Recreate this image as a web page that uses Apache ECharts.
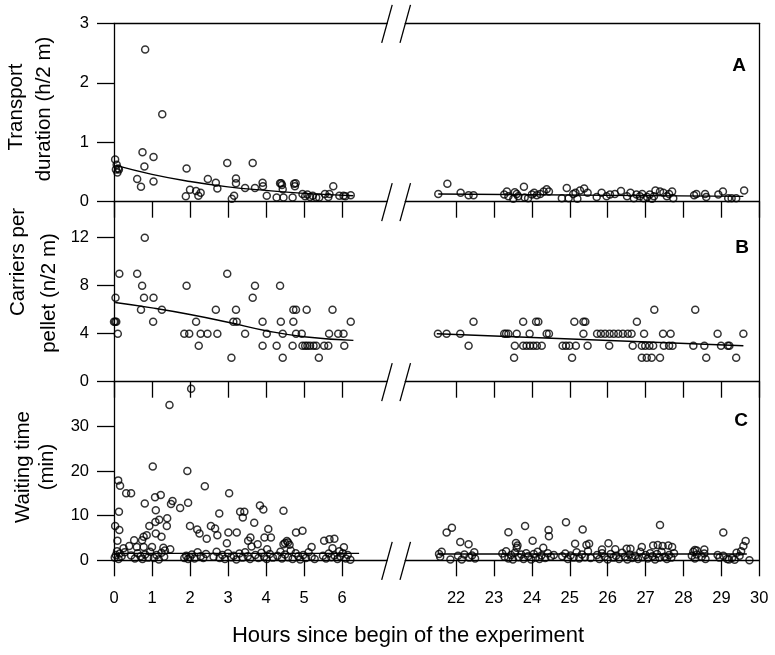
<!DOCTYPE html>
<html>
<head>
<meta charset="utf-8">
<script src="https://cdn.jsdelivr.net/npm/echarts@6/dist/echarts.min.js"></script>
<style>html,body{margin:0;padding:0;background:#fff}#c{width:775px;height:655px}</style>
</head>
<body>
<div id="c"></div>
<script>
// ---------- data ----------
const xTicksLeft = [0, 1, 2, 3, 4, 5, 6];
const xTicksRight = [22, 23, 24, 25, 26, 27, 28, 29, 30];
const yTicksA = [0, 1, 2, 3];
const yTicksB = [0, 4, 8, 12];
const yTicksC = [0, 10, 20, 30];

// Panel A: transport duration (h/2 m)
const aLeft = [[0.03,0.71],[0.05,0.54],[0.07,0.62],[0.09,0.49],[0.11,0.56],[0.13,0.54],[0.61,0.38],[0.71,0.25],[0.75,0.83],[0.8,0.59],[0.82,2.56],[1.04,0.75],[1.04,0.34],[1.27,1.47],[1.89,0.09],[1.91,0.56],[2.0,0.2],[2.16,0.18],[2.22,0.10],[2.28,0.15],[2.47,0.38],[2.68,0.32],[2.72,0.22],[2.98,0.65],[3.1,0.05],[3.16,0.10],[3.21,0.39],[3.21,0.31],[3.45,0.23],[3.65,0.65],[3.71,0.23],[3.91,0.32],[3.92,0.26],[4.02,0.10],[4.28,0.07],[4.37,0.31],[4.42,0.28],[4.4,0.31],[4.44,0.21],[4.46,0.07],[4.7,0.07],[4.74,0.30],[4.78,0.31],[4.76,0.26],[4.96,0.13],[5.03,0.09],[5.09,0.12],[5.16,0.08],[5.23,0.10],[5.32,0.07],[5.4,0.07],[5.55,0.13],[5.64,0.08],[5.67,0.13],[5.77,0.26],[5.93,0.10],[6.04,0.10],[6.09,0.09],[6.23,0.11]];
const aRight = [[21.53,0.13],[21.77,0.30],[22.12,0.15],[22.33,0.11],[22.46,0.11],[23.27,0.12],[23.34,0.17],[23.38,0.09],[23.51,0.05],[23.55,0.16],[23.6,0.13],[23.64,0.09],[23.79,0.25],[23.81,0.07],[23.9,0.06],[24.0,0.12],[24.06,0.15],[24.13,0.11],[24.22,0.13],[24.31,0.17],[24.39,0.21],[24.45,0.17],[24.79,0.06],[24.92,0.23],[24.97,0.06],[25.09,0.13],[25.15,0.15],[25.2,0.05],[25.27,0.19],[25.38,0.22],[25.47,0.15],[25.71,0.08],[25.84,0.15],[25.97,0.09],[26.06,0.12],[26.19,0.13],[26.35,0.18],[26.51,0.09],[26.6,0.15],[26.69,0.06],[26.76,0.12],[26.85,0.09],[26.91,0.13],[26.95,0.06],[27.04,0.08],[27.11,0.12],[27.17,0.05],[27.22,0.09],[27.26,0.19],[27.38,0.17],[27.47,0.15],[27.56,0.09],[27.62,0.13],[27.7,0.17],[27.73,0.06],[28.28,0.11],[28.34,0.13],[28.57,0.13],[28.6,0.08],[28.92,0.12],[29.04,0.17],[29.18,0.06],[29.27,0.06],[29.39,0.06],[29.6,0.19]];
const aFitLeft = [[0.05,0.61],[1,0.46],[2,0.34],[3,0.25],[4,0.19],[5,0.14],[6.3,0.10]];
const aFitRight = [[21.53,0.13],[29.58,0.09]];

// Panel B: carriers per pellet (n/2 m)
const bLeft = [[0.0,5],[0.03,5],[0.06,5],[0.04,7],[0.1,4],[0.14,9],[0.61,9],[0.74,8],[0.71,6],[0.79,7],[0.81,12],[1.04,7],[1.03,5],[1.26,6],[1.85,4],[1.91,8],[1.98,4],[2.16,5],[2.23,3],[2.28,4],[2.46,4],[2.68,6],[2.72,4],[2.98,9],[3.09,2],[3.14,5],[3.23,5],[3.21,6],[3.45,4],[3.65,7],[3.71,8],[3.91,5],[3.91,3],[4.02,4],[4.28,3],[4.37,8],[4.39,5],[4.44,4],[4.44,2],[4.7,3],[4.72,5],[4.72,6],[4.79,6],[4.79,4],[4.94,4],[4.96,3],[5.03,3],[5.09,3],[5.16,3],[5.25,3],[5.32,3],[5.07,6],[5.39,2],[5.53,3],[5.64,3],[5.66,4],[5.75,6],[5.9,4],[6.04,4],[6.06,3],[6.23,5]];
const bRight = [[21.52,4],[21.75,4],[22.11,4],[22.33,3],[22.46,5],[23.27,4],[23.32,4],[23.38,4],[23.53,2],[23.55,3],[23.6,4],[23.77,5],[23.77,3],[23.86,3],[23.95,3],[24.04,3],[24.13,3],[24.26,3],[23.94,4],[24.11,5],[24.17,5],[24.39,4],[24.45,4],[24.81,3],[24.9,3],[24.99,3],[25.16,3],[25.06,2],[25.12,5],[25.36,5],[25.41,5],[25.36,4],[25.47,3],[25.72,4],[25.82,4],[25.93,4],[26.05,4],[26.16,4],[26.28,4],[26.4,4],[26.53,4],[26.63,4],[26.04,3],[26.77,5],[26.96,4],[26.66,3],[26.9,3],[26.99,3],[27.1,3],[27.2,3],[26.9,2],[27.03,2],[27.16,2],[27.38,2],[27.23,6],[27.46,4],[27.66,4],[27.48,3],[27.62,3],[27.71,3],[28.26,3],[28.31,6],[28.55,3],[28.6,2],[28.9,4],[28.99,3],[29.17,3],[29.21,3],[29.39,2],[29.58,4]];
const bFitLeft = [[0.03,6.6],[1,6.15],[2,5.6],[3,4.95],[4,4.25],[5,3.75],[6.3,3.44]];
const bFitRight = [[21.49,4.0],[29.58,3.0]];

// Panel C: waiting time (min)
const cLeft = [[1.46,34.8],[2.03,38.4],[1.02,21.0],[1.93,20.0],[0.11,17.9],[0.16,16.7],[2.39,16.6],[0.32,15.0],[0.45,15.0],[3.03,15.0],[1.23,14.6],[1.08,14.1],[1.54,13.3],[1.95,12.9],[0.81,12.7],[1.5,12.6],[3.84,12.3],[3.93,11.4],[1.74,11.7],[1.1,11.2],[4.46,11.1],[0.13,10.9],[3.32,10.9],[3.43,10.9],[2.77,10.5],[3.39,9.6],[1.4,9.4],[1.19,9.1],[1.09,8.6],[3.69,8.4],[0.03,7.7],[0.93,7.7],[1.39,7.7],[2.0,7.7],[2.55,7.7],[2.66,7.1],[4.06,7.0],[0.14,6.8],[2.19,6.9],[4.96,6.6],[3.01,6.2],[3.23,6.2],[4.79,6.2],[2.25,6.0],[1.1,6.0],[0.86,5.6],[2.72,5.6],[1.25,5.3],[0.78,5.3],[3.59,5.1],[3.96,5.1],[4.13,5.1],[2.44,4.8],[5.8,4.8],[5.67,4.7],[0.74,4.5],[0.53,4.5],[0.09,4.4],[3.53,4.4],[5.53,4.4],[4.55,4.3],[4.5,3.9],[4.58,4.0],[4.46,3.6],[4.62,3.5],[2.97,3.8],[3.78,3.6],[0.4,3.2],[5.2,3.0],[3.62,3.1],[0.6,3.0],[0.78,3.0],[1.0,3.0],[6.05,2.9],[1.3,2.8],[5.75,2.7],[0.25,2.7],[1.48,2.5],[4.03,2.5],[1.34,2.2],[5.93,2.0],[6.22,0.1],
[0.02,0.6],[0.05,1.2],[0.08,2.0],[0.12,0.3],[0.15,1.5],[0.2,0.9],[0.28,1.8],[0.45,1.1],[0.55,0.4],[0.62,1.6],[0.7,0.9],[0.75,0.3],[0.82,1.3],[0.9,0.6],[0.95,1.9],[1.05,0.5],[1.12,1.2],[1.18,0.2],[1.25,1.7],[1.32,0.8],[1.85,0.5],[1.9,1.0],[1.95,0.3],[2.0,0.7],[2.05,1.3],[2.12,0.4],[2.2,1.8],[2.28,0.9],[2.35,0.5],[2.42,1.4],[2.62,0.8],[2.7,1.9],[2.78,0.5],[2.85,1.2],[2.92,0.3],[3.0,1.6],[3.08,0.7],[3.15,1.0],[3.22,0.2],[3.3,1.5],[3.38,0.6],[3.45,1.8],[3.52,0.9],[3.58,0.3],[3.72,1.2],[3.8,0.5],[3.88,1.7],[3.95,0.8],[4.02,0.3],[4.1,1.4],[4.18,0.6],[4.3,1.0],[4.38,1.9],[4.42,0.4],[4.5,1.3],[4.58,0.7],[4.65,2.2],[4.7,0.3],[4.78,1.6],[4.85,0.9],[4.9,0.2],[4.98,1.2],[5.05,0.5],[5.12,1.8],[5.2,0.8],[5.28,0.3],[5.5,1.0],[5.58,0.4],[5.65,1.5],[5.72,0.7],[5.8,1.1],[5.88,0.3],[5.95,0.9],[6.02,1.6],[6.1,0.4],[6.15,1.2]];
const cRight = [[21.75,6.2],[21.89,7.3],[22.11,4.1],[22.33,3.6],[23.38,6.3],[23.82,7.7],[24.02,4.4],[24.44,6.8],[24.45,5.4],[24.9,8.5],[25.34,6.9],[25.14,3.7],[25.44,3.4],[25.51,3.7],[23.62,3.3],[23.6,2.8],[24.3,2.8],[23.58,3.9],[26.02,3.8],[25.85,2.4],[26.2,2.5],[26.5,2.6],[26.6,2.6],[26.9,3.0],[27.2,3.3],[27.32,3.4],[27.45,3.2],[27.6,3.3],[27.7,3.0],[27.38,7.9],[28.3,2.3],[28.35,2.2],[28.55,2.4],[29.05,6.2],[29.4,1.7],[29.58,3.2],[29.64,4.3],[29.74,0.0],
[21.55,1.4],[21.58,0.8],[21.62,1.9],[21.85,0.2],[22.05,1.0],[22.15,0.2],[22.22,1.3],[22.35,0.6],[22.42,1.1],[22.48,1.8],[22.5,0.4],[23.22,1.5],[23.28,0.8],[23.32,2.0],[23.38,0.4],[23.45,1.2],[23.5,0.2],[23.55,1.7],[23.65,0.7],[23.72,1.3],[23.78,0.3],[23.85,1.6],[23.9,0.9],[23.98,0.2],[24.05,1.4],[24.1,0.6],[24.15,1.9],[24.2,0.3],[24.25,1.1],[24.35,0.5],[24.42,1.6],[24.5,0.8],[24.58,1.2],[24.8,0.9],[24.88,1.5],[24.95,0.3],[25.02,1.1],[25.1,0.6],[25.18,1.8],[25.25,0.4],[25.32,1.3],[25.4,0.7],[25.48,2.0],[25.55,0.5],[25.72,1.2],[25.78,0.3],[25.85,1.6],[25.92,0.8],[26.0,0.2],[26.08,1.4],[26.15,0.6],[26.22,1.0],[26.3,0.3],[26.38,1.7],[26.45,0.8],[26.52,0.2],[26.58,1.3],[26.65,0.5],[26.72,1.0],[26.8,0.3],[26.86,1.9],[26.92,0.7],[27.0,1.2],[27.06,0.4],[27.12,1.6],[27.18,0.9],[27.25,0.2],[27.3,1.4],[27.36,0.6],[27.42,1.9],[27.5,0.8],[27.56,0.3],[27.62,1.2],[27.68,0.6],[27.75,1.6],[28.22,1.0],[28.26,1.9],[28.3,0.4],[28.35,1.3],[28.48,0.8],[28.55,1.5],[28.58,0.3],[28.9,1.2],[28.95,0.6],[29.05,1.0],[29.15,0.3],[29.2,0.2],[29.28,0.5],[29.35,0.1],[29.48,1.0],[29.52,2.0]];
const cFitLeft = [[0.03,1.56],[6.45,1.56]];
const cFitRight = [[21.53,1.4],[29.67,1.4]];

const panelLabels = ['A', 'B', 'C'];
const yTitles = [['Transport', 'duration (h/2 m)'], ['Carriers per', 'pellet (n/2 m)'], ['Waiting time', '(min)']];
const xTitle = 'Hours since begin of the experiment';

// ---------- layout ----------
const FONT = 'Liberation Sans, Arial, Helvetica, sans-serif';
const LW = 1.3;
const panelTop = [23.3, 201.7, 381.7];
const panelH = [178.4, 180, 178.6];
const leftX = 114, leftW = 273;     // 0 .. 7.184 h
const rightX = 405.3, rightW = 354; // 20.66 .. 30 h
const leftMax = 7.184, rightMin = 20.66, rightMax = 30;
const yMax = [3, 15, 40];
const yTicks = [yTicksA, yTicksB, yTicksC];

const grids = [], xAxes = [], yAxes = [], series = [];
const lineStyle = {color: '#000', width: LW};
const sym = {color: 'rgba(0,0,0,0)', borderColor: '#000', borderWidth: 1.5};
const datasets = [[aLeft, aRight, aFitLeft, aFitRight],[bLeft, bRight, bFitLeft, bFitRight],[cLeft, cRight, cFitLeft, cFitRight]];

for (let p = 0; p < 3; p++) {
  const isBottom = p === 2;
  for (let s = 0; s < 2; s++) {
    const gi = grids.length;
    grids.push({left: s === 0 ? leftX : rightX, width: s === 0 ? leftW : rightW, top: panelTop[p], height: panelH[p], containLabel: false});
    const ticks = s === 0 ? xTicksLeft : xTicksRight;
    xAxes.push({
      type: 'value', gridIndex: gi, position: 'bottom',
      min: s === 0 ? 0 : rightMin, max: s === 0 ? leftMax : rightMax,
      axisLine: {show: true, onZero: false, lineStyle},
      axisTick: {show: true, inside: false, length: 16, lineStyle, customValues: ticks},
      axisLabel: {show: isBottom, customValues: ticks, color: '#000', fontFamily: FONT, fontSize: 16.5, margin: 30},
      splitLine: {show: false}
    });
    yAxes.push({
      type: 'value', gridIndex: gi, position: s === 0 ? 'left' : 'right',
      min: 0, max: yMax[p],
      axisLine: {show: true, onZero: false, lineStyle},
      axisTick: {show: s === 0, inside: false, length: 17, lineStyle, customValues: yTicks[p]},
      axisLabel: {show: s === 0, customValues: yTicks[p], color: '#000', fontFamily: FONT, fontSize: 16.5, margin: 25},
      splitLine: {show: false}
    });
    series.push({type: 'scatter', xAxisIndex: gi, yAxisIndex: gi, data: datasets[p][s], symbol: 'circle', symbolSize: 7, itemStyle: sym, silent: true, clip: false, z: 3});
    series.push({type: 'line', xAxisIndex: gi, yAxisIndex: gi, data: datasets[p][s + 2], smooth: 0.5, showSymbol: false, symbol: 'none', lineStyle: {color: '#000', width: 1.4}, silent: true, z: 2});
  }
}
// top border of panel A
for (let s = 0; s < 2; s++) {
  xAxes.push({
    type: 'value', gridIndex: s, position: 'top',
    min: s === 0 ? 0 : rightMin, max: s === 0 ? leftMax : rightMax,
    axisLine: {show: true, onZero: false, lineStyle}, axisTick: {show: false}, axisLabel: {show: false}, splitLine: {show: false}
  });
}

const graphic = [];
// break marks
const breakYs = [panelTop[0], panelTop[1], panelTop[2], panelTop[2] + panelH[2]];
breakYs.forEach(y => {
  [381.7, 400].forEach(x0 => {
    graphic.push({type: 'line', shape: {x1: x0, y1: y + 19.5, x2: x0 + 10.5, y2: y - 18.5}, style: {stroke: '#000', lineWidth: LW}, silent: true});
  });
});
// y titles
const yTitlePos = [[[16, 107], [44.5, 109]], [[18.5, 262], [49.5, 293]], [[23, 467], [47, 467]]];
for (let p = 0; p < 3; p++) {
  for (let l = 0; l < 2; l++) {
    graphic.push({type: 'text', x: yTitlePos[p][l][0], y: yTitlePos[p][l][1], rotation: Math.PI / 2,
      style: {text: yTitles[p][l], font: '20.5px ' + FONT, fill: '#000', textAlign: 'center', textVerticalAlign: 'middle'}, silent: true});
  }
}
// panel letters
const letterPos = [[739, 66], [742, 248], [741, 421]];
for (let p = 0; p < 3; p++) {
  graphic.push({type: 'text', x: letterPos[p][0], y: letterPos[p][1],
    style: {text: panelLabels[p], font: 'bold 19px ' + FONT, fill: '#000', textAlign: 'center', textVerticalAlign: 'middle'}, silent: true});
}
// x title
graphic.push({type: 'text', x: 408, y: 636, style: {text: xTitle, font: '22px ' + FONT, fill: '#000', textAlign: 'center', textVerticalAlign: 'middle'}, silent: true});

const chart = echarts.init(document.getElementById('c'), null, {renderer: 'canvas'});
chart.setOption({
  animation: false,
  backgroundColor: '#fff',
  grid: grids, xAxis: xAxes, yAxis: yAxes, series: series, graphic: graphic
});
</script>
</body>
</html>
